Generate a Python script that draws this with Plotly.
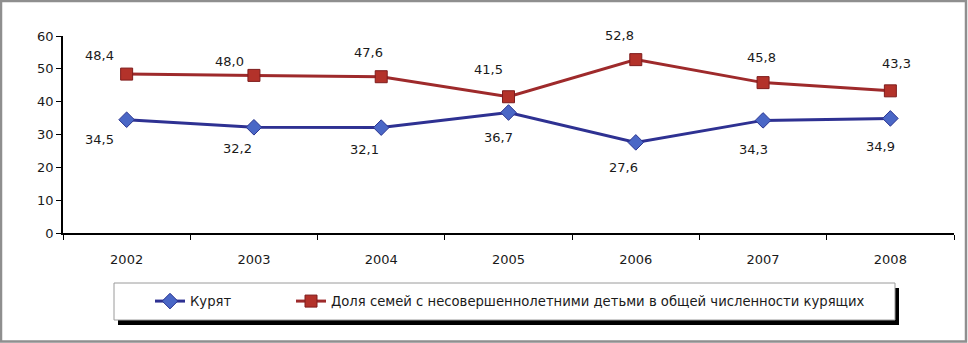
import plotly.graph_objects as go

years = ["2002", "2003", "2004", "2005", "2006", "2007", "2008"]
smoke = [34.5, 32.2, 32.1, 36.7, 27.6, 34.3, 34.9]
share = [48.4, 48.0, 47.6, 41.5, 52.8, 45.8, 43.3]
name_smoke = "Курят"
name_share = "Доля семей с несовершеннолетними детьми в общей численности курящих"
y_ticks = [0, 10, 20, 30, 40, 50, 60]

# label offsets in pixels (dx, dy up positive)
share_off = [(-27, 19), (-24, 14), (-13, 24), (-20, 27), (-16, 24), (-2, 25), (6, 27)]
smoke_off = [(-27, -20), (-16, -21), (-17, -22), (-10, -25), (-12, -25), (-10, -29), (-10, -28)]

W, H = 968, 343
L, R, T, B = 63, 14, 36, 110
PW, PH = W - L - R, H - T - B

def px(x):
    return (x - L) / PW

def py(y):
    return (H - B - y) / PH

FONT = "DejaVu Sans"

fig = go.Figure()
fig.add_trace(go.Scatter(
    x=years, y=smoke, name=name_smoke, mode="lines+markers", legend="legend",
    line=dict(color="#2E3192", width=3),
    marker=dict(symbol="diamond", size=12, color="#4A67C6",
                line=dict(color="#2B3591", width=1)),
))
fig.add_trace(go.Scatter(
    x=years, y=share, name=name_share, mode="lines+markers", legend="legend2",
    line=dict(color="#9E2A2B", width=3),
    marker=dict(symbol="square", size=12, color="#B3322A",
                line=dict(color="#7E1C1C", width=1)),
))

def fmt(v):
    return f"{v:.1f}".replace(".", ",")

ann = []
for i, (yr, v) in enumerate(zip(years, share)):
    ann.append(dict(x=i, y=v, xref="x", yref="y", text=fmt(v), showarrow=False,
                    xshift=share_off[i][0], yshift=share_off[i][1],
                    font=dict(family=FONT, size=13, color="#1a1a1a")))
for i, (yr, v) in enumerate(zip(years, smoke)):
    ann.append(dict(x=i, y=v, xref="x", yref="y", text=fmt(v), showarrow=False,
                    xshift=smoke_off[i][0], yshift=smoke_off[i][1],
                    font=dict(family=FONT, size=13, color="#1a1a1a")))

shapes = [
    # outer frame
    dict(type="rect", xref="paper", yref="paper",
         x0=px(1), x1=px(966), y0=py(341.5), y1=py(1),
         line=dict(color="#8f8f8f", width=2.5), fillcolor="rgba(0,0,0,0)", layer="below"),
    # legend shadow
    dict(type="rect", xref="paper", yref="paper",
         x0=px(118), x1=px(899), y0=py(325), y1=py(288),
         line=dict(width=0), fillcolor="#000000", layer="above"),
    # legend box
    dict(type="rect", xref="paper", yref="paper",
         x0=px(114), x1=px(895), y0=py(320), y1=py(283),
         line=dict(color="#9a9a9a", width=1), fillcolor="#ffffff", layer="above"),
]

leg_common = dict(orientation="h", xref="container", yref="container",
                  xanchor="left", yanchor="middle", y=1 - 301.5 / H,
                  bgcolor="rgba(0,0,0,0)", borderwidth=0,
                  font=dict(family=FONT, size=13.2, color="#1a1a1a"))

fig.update_layout(
    width=W, height=H,
    margin=dict(l=L, r=R, t=T, b=B),
    paper_bgcolor="white", plot_bgcolor="white",
    font=dict(family=FONT, size=13, color="#1a1a1a"),
    showlegend=True,
    legend=dict(leg_common, x=150 / W),
    legend2=dict(leg_common, x=291 / W),
    xaxis=dict(type="category", range=[-0.5, 6.5], showgrid=False,
               showline=True, linecolor="black", linewidth=1.5,
               ticks="outside", tickson="boundaries", ticklen=5, tickcolor="black",
               ticklabelstandoff=14, zeroline=False, fixedrange=True),
    yaxis=dict(range=[0, 60], tickvals=y_ticks, showgrid=False,
               showline=True, linecolor="black", linewidth=1.5,
               ticks="outside", ticklen=5, tickcolor="black",
               zeroline=False, fixedrange=True),
    annotations=ann,
    shapes=shapes,
)

fig.write_html("out.html", config={"displayModeBar": False},
               post_script="document.body.style.margin='0';document.body.style.padding='0';")
